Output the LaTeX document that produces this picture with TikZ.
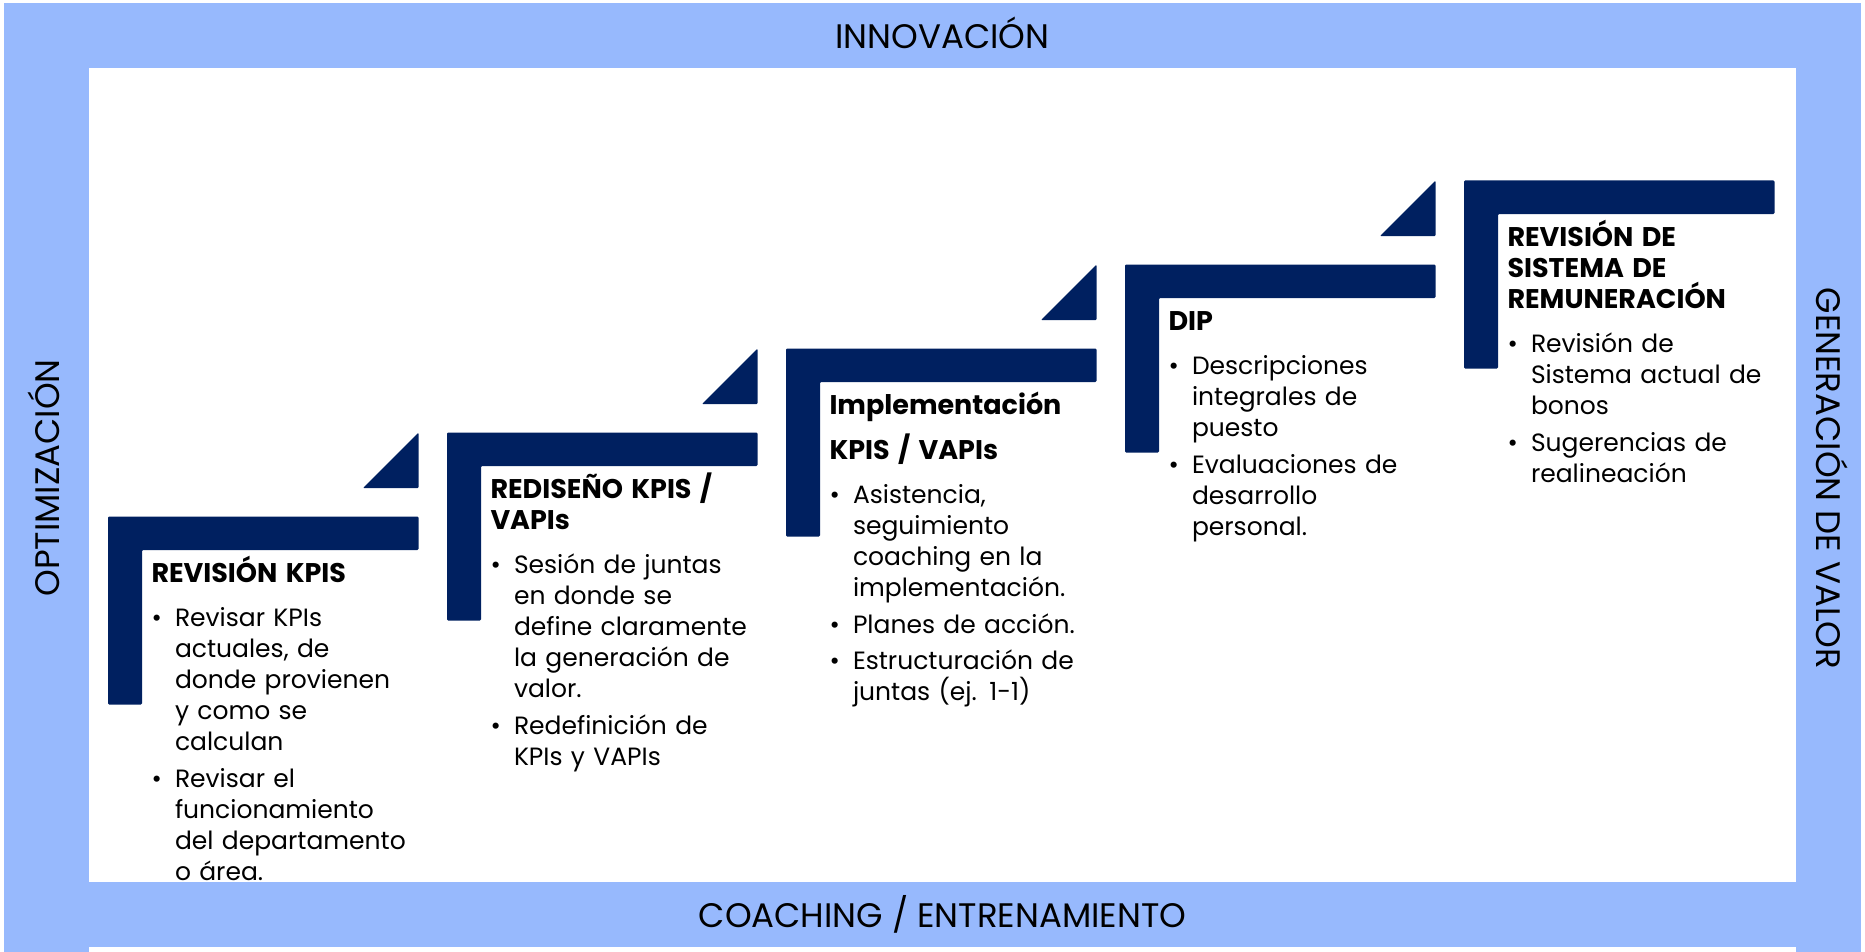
\documentclass[tikz,border=0pt]{standalone}
\usepackage{fontspec}
\setmainfont{Poppins}
\usepackage{xcolor}
\usepackage{tikz}
\definecolor{navyblue}{RGB}{0,32,96}
\definecolor{bandblue}{RGB}{151,185,253}
\newcommand{\steptitle}[1]{{\fontsize{27}{31}\selectfont\bfseries #1\par}\vspace{12.5pt}}
\newcommand{\stepitem}[1]{\par\hangindent=23.5pt\hangafter=1\noindent\makebox[23.5pt][l]{\textbullet}{\let\\\newline #1}\par}

\begin{document}
\begin{tikzpicture}[x=1pt,y=1pt,yscale=-1,xscale=1,
  bracket/.style={fill=navyblue,draw=none,rounded corners=1.2pt},
  band/.style={fill=bandblue,draw=none},
  steptext/.style={anchor=base west,inner sep=0pt,text width=290pt,align=left,font=\fontsize{25}{31}\selectfont},
  bandtext/.style={anchor=base,inner sep=0pt,font=\fontsize{34}{40}\selectfont}]
\useasboundingbox (0,0) rectangle (1865,952);

%Shape: Bracket 1
\fill [bracket] (108,516.5) -- (418.5,516.5) -- (418.5,550) -- (142,550) -- (142,704.5) -- (108,704.5) -- cycle ;
%Shape: Right Triangle 1
\fill [bracket] (418.5,432.5) -- (418.5,488.2) -- (362.8,488.2) -- cycle ;
%Shape: Bracket 2
\fill [bracket] (447,432.5) -- (757.5,432.5) -- (757.5,466) -- (481,466) -- (481,620.5) -- (447,620.5) -- cycle ;
%Shape: Right Triangle 2
\fill [bracket] (757.5,348.5) -- (757.5,404.2) -- (701.8,404.2) -- cycle ;
%Shape: Bracket 3
\fill [bracket] (786,348.5) -- (1096.5,348.5) -- (1096.5,382) -- (820,382) -- (820,536.5) -- (786,536.5) -- cycle ;
%Shape: Right Triangle 3
\fill [bracket] (1096.5,264.5) -- (1096.5,320.2) -- (1040.8,320.2) -- cycle ;
%Shape: Bracket 4
\fill [bracket] (1125,264.5) -- (1435.5,264.5) -- (1435.5,298) -- (1159,298) -- (1159,452.5) -- (1125,452.5) -- cycle ;
%Shape: Right Triangle 4
\fill [bracket] (1435.5,180.5) -- (1435.5,236.2) -- (1379.8,236.2) -- cycle ;
%Shape: Bracket 5
\fill [bracket] (1464,180.5) -- (1774.5,180.5) -- (1774.5,214) -- (1498,214) -- (1498,368.5) -- (1464,368.5) -- cycle ;

% Text Node
\node [steptext] (revkpis) at (151.3,582.8) {\steptitle{REVISIÓN KPIS}
\stepitem{Revisar KPIs\\actuales, de\\donde provienen\\y como se\\calculan}\vspace{5.7pt}
\stepitem{Revisar el\\funcionamiento\\del departamento\\o área.}};
% Text Node
\node [steptext] (rediseno) at (490.3,498.8) {\steptitle{REDISEÑO KPIS /\\VAPIs}
\stepitem{Sesión de juntas\\en donde se\\define claramente\\la generación de\\valor.}\vspace{5.7pt}
\stepitem{Redefinición de\\KPIs y VAPIs}};
% Text Node
\node [steptext] (implem) at (829.3,414.8) {\steptitle{Implementación\\[11.3pt]KPIS / VAPIs}
\stepitem{Asistencia,\\seguimiento\\coaching en la\\implementación.}\vspace{5.7pt}
\stepitem{Planes de acción.}\vspace{5.7pt}
\stepitem{Estructuración de\\juntas (ej. 1-1)}};
% Text Node
\node [steptext] (dip) at (1168.3,330.8) {\steptitle{DIP}
\stepitem{Descripciones\\integrales de\\puesto}\vspace{5.7pt}
\stepitem{Evaluaciones de\\desarrollo\\personal.}};
% Text Node
\node [steptext] (remun) at (1507.3,246.8) {\steptitle{REVISIÓN DE\\SISTEMA DE\\REMUNERACIÓN}
\stepitem{Revisión de\\Sistema actual de\\bonos}\vspace{5.7pt}
\stepitem{Sugerencias de\\realineación}};

%Shape: Frame Top
\fill [band] (4,3) rectangle (1861,68) ;
%Shape: Frame Bottom
\fill [band] (89,882) rectangle (1796,947) ;
%Shape: Frame Left
\fill [band] (4,3) rectangle (89,952) ;
%Shape: Frame Right
\fill [band] (1796,3) rectangle (1861,952) ;

% Text Node
\node [bandtext] (innov) at (942.5,48.3) {INNOVACIÓN};
% Text Node
\node [bandtext] (coach) at (942.5,927) {COACHING / ENTRENAMIENTO};
% Text Node
\node [bandtext,rotate=90] (optim) at (59,478) {OPTIMIZACIÓN};
% Text Node
\node [bandtext,rotate=-90] (genval) at (1816.5,478.5) {GENERACIÓN DE VALOR};

\end{tikzpicture}
\end{document}
